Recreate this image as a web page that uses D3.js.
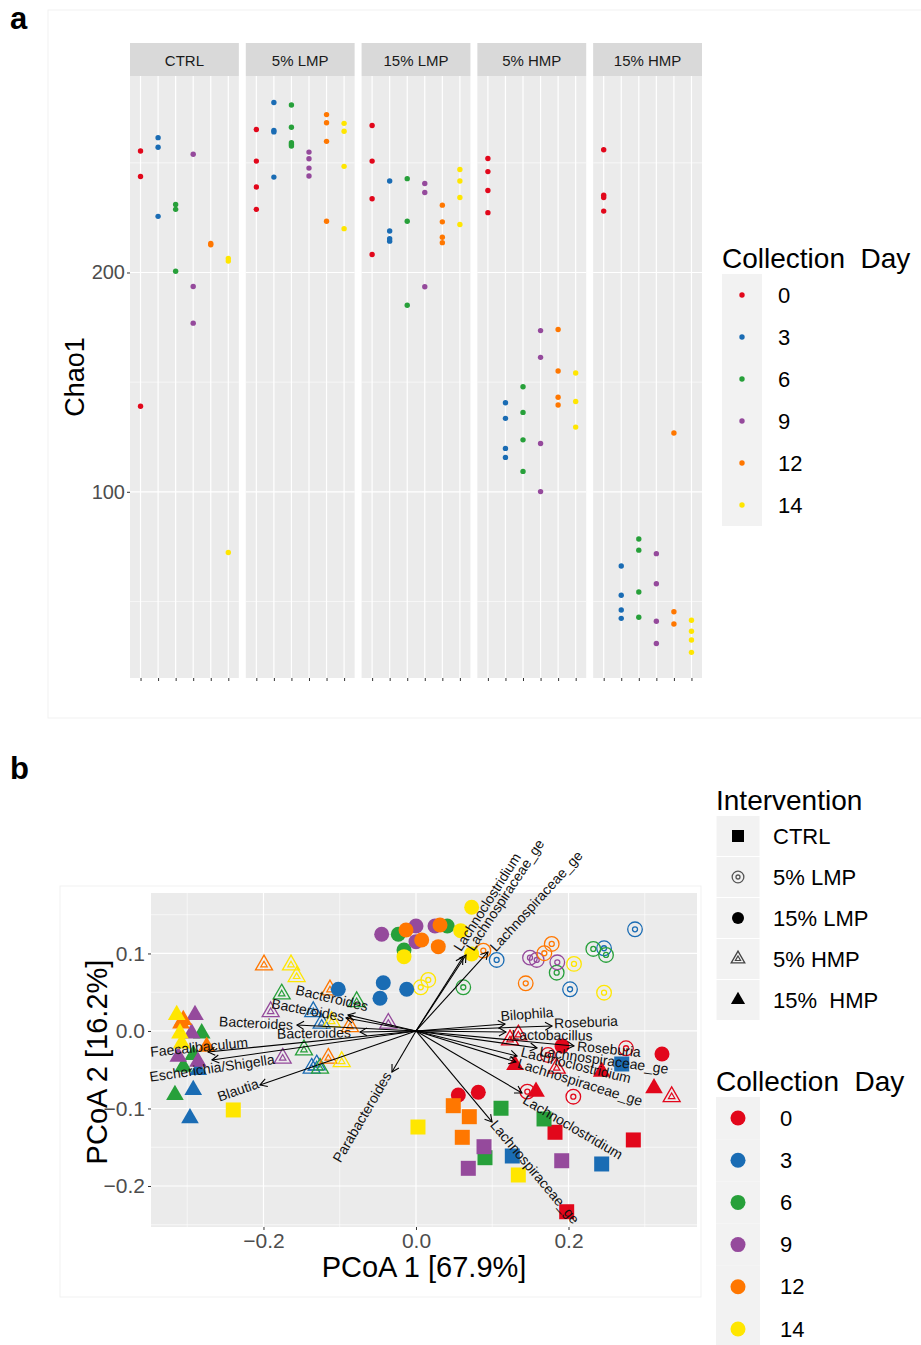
<!DOCTYPE html>
<html>
<head>
<meta charset="utf-8">
<script src="https://cdn.jsdelivr.net/npm/d3@7"></script>
<style>
  body { margin: 0; background: #fff; }
  svg { font-family: "Liberation Sans", Arial, Helvetica, sans-serif; }
</style>
</head>
<body>
<div id="wrapper"></div>
<script>
// ---- data ----
const days = ["0", "3", "6", "9", "12", "14"];
const dayColors = ["#e2071b", "#1a6cb4", "#27a03a", "#954a9c", "#ff7700", "#ffe600"];
const groups = ["CTRL", "5% LMP", "15% LMP", "5% HMP", "15% HMP"];

// Chao1, one list per collection day (0,3,6,9,12,14)
const chaoCTRL = [[255.4, 243.8, 139.0], [261.5, 257.1, 225.6], [231.0, 228.8, 200.6], [253.9, 193.6, 176.9], [213.2, 212.6], [206.4, 205.2, 72.3]];
const chaoLMP5 = [[265.2, 250.8, 239.0, 228.8], [277.5, 264.8, 264.1, 243.5], [276.4, 266.2, 259.2, 258.4, 257.7], [254.9, 251.9, 247.6, 244.0], [272.0, 268.3, 259.8, 223.4], [268.0, 264.4, 248.4, 220.0]];
const chaoLMP15 = [[267.0, 250.8, 233.6, 208.2], [241.7, 218.9, 215.4, 214.3], [242.8, 223.4, 185.1], [240.6, 236.5, 193.5], [230.7, 223.1, 216.1, 213.6], [247.0, 241.7, 234.2, 221.9]];
const chaoHMP5 = [[252.0, 246.0, 237.4, 227.3], [140.6, 133.5, 119.8, 115.7], [147.9, 136.2, 123.7, 109.3], [173.5, 161.3, 122.0, 100.1], [174.0, 155.1, 143.1, 139.6], [154.2, 141.2, 129.5]];
const chaoHMP15 = [[256.0, 235.2, 234.2, 228.0], [66.2, 52.8, 46.1, 42.3], [78.5, 73.4, 54.3, 42.8], [71.8, 58.1, 41.0, 30.8], [126.8, 45.3, 39.7], [41.4, 36.4, 32.4, 26.8]];
const chaoTicks = [100, 200];

// PCoA scores: [day, PCoA1, PCoA2]
const pcCTRL = [["0", 0.1823, -0.1307], ["0", 0.2850, -0.1406], ["0", 0.1976, -0.2332],
  ["3", 0.1263, -0.1613], ["3", 0.2435, -0.1716], ["3", 0.2698, -0.0426],
  ["6", 0.1115, -0.0997], ["6", 0.1679, -0.1135], ["6", 0.0905, -0.1635],
  ["9", 0.0892, -0.1493], ["9", 0.0686, -0.1772], ["9", 0.1911, -0.1674],
  ["12", 0.0489, -0.0964], ["12", 0.0699, -0.1106], ["12", 0.0607, -0.1372],
  ["14", 0.1342, -0.1858], ["14", -0.2396, -0.1019], ["14", 0.0026, -0.1239]];
const pcLMP5 = [["0", 0.2754, -0.0223], ["0", 0.2063, -0.0848], ["0", 0.1460, -0.0783], ["0", 0.1731, -0.0310],
  ["3", 0.1058, 0.0916], ["3", 0.2872, 0.1312], ["3", 0.2466, 0.1067], ["3", 0.2020, 0.0538],
  ["6", 0.0620, 0.0564], ["6", 0.1845, 0.0752], ["6", 0.2325, 0.1058], ["6", 0.2492, 0.0981],
  ["9", 0.1495, 0.0946], ["9", 0.1583, 0.0916], ["9", 0.1853, 0.0886],
  ["12", 0.0883, 0.1036], ["12", 0.1780, 0.1123], ["12", 0.1683, 0.1003], ["12", 0.1439, 0.0615],
  ["14", 0.0161, 0.0658], ["14", 0.0062, 0.0564], ["14", 0.2072, 0.0865], ["14", 0.2466, 0.0494]];
const pcLMP15 = [["0", 0.0555, -0.0826], ["0", 0.0817, -0.0791], ["0", 0.1915, -0.0194], ["0", 0.3226, -0.0297],
  ["3", -0.1019, 0.0538], ["3", -0.0429, 0.0623], ["3", -0.0122, 0.0538], ["3", -0.0472, 0.0422],
  ["6", -0.0232, 0.1248], ["6", -0.0157, 0.1045], ["6", 0.0410, 0.1355],
  ["9", -0.0450, 0.1248], ["9", 0.0000, 0.1355], ["9", 0.0000, 0.1152], ["9", 0.0249, 0.1355],
  ["12", -0.0131, 0.1303], ["12", 0.0075, 0.1174], ["12", 0.0315, 0.1368], ["12", 0.0292, 0.1088],
  ["14", -0.0157, 0.0959], ["14", 0.0730, 0.1596], ["14", 0.0586, 0.1294], ["14", 0.0730, 0.0994]];
const pcHMP5 = [["0", 0.1233, -0.0116], ["0", 0.1342, -0.0052], ["0", 0.1845, -0.0481], ["0", 0.3353, -0.0848],
  ["3", -0.1347, 0.0249], ["3", -0.1237, 0.0099], ["3", -0.1368, -0.0481], ["3", -0.1302, -0.0439],
  ["6", -0.1761, 0.0477], ["6", -0.0778, 0.0378], ["6", -0.1469, -0.0245], ["6", -0.1259, -0.0481],
  ["9", -0.1906, 0.0249], ["9", -0.0363, 0.0099], ["9", -0.1748, -0.0352],
  ["12", -0.1993, 0.0852], ["12", -0.1128, 0.0529], ["12", -0.0866, 0.0055], ["12", -0.1150, -0.0352],
  ["14", -0.1639, 0.0852], ["14", -0.1565, 0.0701], ["14", -0.1106, 0.0120], ["14", -0.0974, -0.0396]];
const pcHMP15 = [["0", 0.1298, -0.0439], ["0", 0.2435, -0.0525], ["0", 0.3121, -0.0739], ["0", 0.1574, -0.0783],
  ["3", -0.2855, -0.0503], ["3", -0.2921, -0.0761], ["3", -0.2964, -0.1126],
  ["6", -0.2810, -0.0030], ["6", -0.2921, -0.0310], ["6", -0.3052, -0.0461], ["6", -0.3161, -0.0826],
  ["9", -0.2898, 0.0206], ["9", -0.2942, -0.0030], ["9", -0.3117, -0.0332], ["9", -0.2859, -0.0396],
  ["12", -0.3052, 0.0142], ["12", -0.3082, 0.0099], ["12", -0.2745, -0.0203],
  ["14", -0.3138, 0.0206], ["14", -0.3095, -0.0030], ["14", -0.3073, -0.0159]];

// taxa vectors: [name, tipX, tipY, labelX, labelY]
const vectors = [
  ["Lachnoclostridium", 0.0616, 0.0955, 0.0931, 0.1665],
  ["Lachnospiraceae_ge", 0.0656, 0.0981, 0.1167, 0.1755],
  ["Lachnospiraceae_ge", 0.0944, 0.1019, 0.1574, 0.1677],
  ["Bilophila", 0.1167, 0.0090, 0.1456, 0.0219],
  ["Roseburia", 0.1784, 0.0065, 0.2230, 0.0116],
  ["Lactobacillus", 0.1180, -0.0013, 0.1784, -0.0052],
  ["Roseburia", 0.2072, -0.0194, 0.2531, -0.0232],
  ["Lachnospiraceae_ge", 0.1587, -0.0219, 0.2466, -0.0374],
  ["Lachnoclostridium", 0.1325, -0.0323, 0.2098, -0.0439],
  ["Lachnospiraceae_ge", 0.1311, -0.0400, 0.2151, -0.0658],
  ["Lachnoclostridium", 0.1390, -0.0800, 0.2059, -0.1239],
  ["Lachnospiraceae_ge", 0.0997, -0.1174, 0.1561, -0.1819],
  ["Bacteroides", -0.0892, 0.0206, -0.1102, 0.0426],
  ["Bacteroides", -0.0918, 0.0168, -0.1416, 0.0271],
  ["Bacteroides", -0.1561, 0.0077, -0.2098, 0.0103],
  ["Bacteroides", -0.0734, -0.0013, -0.1338, -0.0026],
  ["Faecalibaculum", -0.2728, -0.0271, -0.2846, -0.0206],
  ["Escherichia/Shigella", -0.2675, -0.0374, -0.2675, -0.0477],
  ["Blautia", -0.2046, -0.0697, -0.2334, -0.0761],
  ["Parabacteroides", -0.0315, -0.0529, -0.0708, -0.1110]
];
const pcXTicks = [-0.2, 0, 0.2];
const pcYTicks = [-0.2, -0.1, 0, 0.1];

// ---- setup ----
const svg = d3.select("#wrapper").append("svg")
  .attr("width", 921)
  .attr("height", 1345);

const dayColor = d3.scaleOrdinal().domain(days).range(dayColors);
const fmt = d => d3.format(".1f")(d).replace("-", "\u2212");

// faint frames around the two panels
svg.append("rect").attr("x", 48).attr("y", 10).attr("width", 880).attr("height", 708)
  .attr("fill", "none").attr("stroke", "#f1f1f1");
svg.append("rect").attr("x", 60).attr("y", 886).attr("width", 641).attr("height", 411)
  .attr("fill", "none").attr("stroke", "#f1f1f1");

svg.append("text").attr("x", 10).attr("y", 29).text("a")
  .attr("font-size", 31).attr("font-weight", "bold");
svg.append("text").attr("x", 10).attr("y", 779).text("b")
  .attr("font-size", 31).attr("font-weight", "bold");

// ---- panel a ----
const facetX = d3.scaleBand().domain(groups).range([130, 702]).paddingInner(0.06);
const chaoY = d3.scaleLinear().domain([15.1, 289.6]).range([678, 76]);
const dayX = d3.scalePoint().domain(days).range([0, facetX.bandwidth()]).padding(0.6);
const chaoData = [chaoCTRL, chaoLMP5, chaoLMP15, chaoHMP5, chaoHMP15];

groups.forEach((grp, gi) => {
  const f = svg.append("g").attr("transform", "translate(" + facetX(grp) + ",0)");
  f.append("rect").attr("x", 0).attr("y", 43).attr("width", facetX.bandwidth()).attr("height", 33)
    .attr("fill", "#d9d9d9");
  f.append("text").attr("x", facetX.bandwidth() / 2).attr("y", 60)
    .attr("text-anchor", "middle").attr("dominant-baseline", "central")
    .attr("font-size", 15).attr("fill", "#1a1a1a").text(grp);
  f.append("rect").attr("x", 0).attr("y", 76).attr("width", facetX.bandwidth()).attr("height", 602)
    .attr("fill", "#ebebeb");
  f.selectAll(".minor").data([50, 150, 250]).join("line")
    .attr("x1", 0).attr("x2", facetX.bandwidth())
    .attr("y1", d => chaoY(d)).attr("y2", d => chaoY(d))
    .attr("stroke", "#fff").attr("stroke-width", 0.6);
  f.selectAll(".major").data(chaoTicks).join("line")
    .attr("x1", 0).attr("x2", facetX.bandwidth())
    .attr("y1", d => chaoY(d)).attr("y2", d => chaoY(d))
    .attr("stroke", "#fff").attr("stroke-width", 1.2);
  f.selectAll(".vgrid").data(days).join("line")
    .attr("x1", d => dayX(d)).attr("x2", d => dayX(d))
    .attr("y1", 76).attr("y2", 678)
    .attr("stroke", "#fff").attr("stroke-width", 1.2);

  const pts = [];
  chaoData[gi].forEach((vals, di) => vals.forEach(v => pts.push({ day: days[di], v: v })));
  f.selectAll("circle").data(pts).join("circle")
    .attr("cx", d => dayX(d.day))
    .attr("cy", d => chaoY(d.v))
    .attr("r", 2.7)
    .attr("fill", d => dayColor(d.day));

  const xa = f.append("g").attr("transform", "translate(0,678)")
    .call(d3.axisBottom(dayX).tickSize(3).tickFormat(""));
  xa.select(".domain").remove();
  xa.selectAll("line").attr("stroke", "#333");
});

const ya = svg.append("g").attr("transform", "translate(130,0)")
  .call(d3.axisLeft(chaoY).tickValues(chaoTicks).tickSize(3).tickPadding(2));
ya.select(".domain").remove();
ya.selectAll("line").attr("stroke", "#333");
ya.selectAll("text").attr("font-size", 20).attr("fill", "#4d4d4d")
  .attr("font-family", "Liberation Sans, Arial, sans-serif");

svg.append("text")
  .attr("transform", "translate(84,377) rotate(-90)")
  .attr("text-anchor", "middle").attr("font-size", 27).text("Chao1");

// panel a legend
const legA = svg.append("g").attr("transform", "translate(722,0)");
legA.append("text").attr("x", 0).attr("y", 268).attr("font-size", 28)
  .style("white-space", "pre").text("Collection  Day");
legA.selectAll("rect").data(days).join("rect")
  .attr("x", 0).attr("y", (d, i) => 274 + i * 42)
  .attr("width", 40).attr("height", 42).attr("fill", "#f2f2f2");
legA.selectAll("circle").data(days).join("circle")
  .attr("cx", 20).attr("cy", (d, i) => 295 + i * 42)
  .attr("r", 2.7).attr("fill", d => dayColor(d));
legA.selectAll(".lab").data(days).join("text")
  .attr("x", 56).attr("y", (d, i) => 295 + i * 42)
  .attr("dominant-baseline", "central").attr("font-size", 22).text(d => d);

// ---- panel b ----
const pcX = d3.scaleLinear().domain([-0.3475, 0.3685]).range([151, 697]);
const pcY = d3.scaleLinear().domain([-0.2529, 0.178]).range([1227, 893]);

const pb = svg.append("g");
pb.append("rect").attr("x", 151).attr("y", 893).attr("width", 546).attr("height", 334)
  .attr("fill", "#ebebeb");
pb.selectAll(".xminor").data([-0.3, -0.1, 0.1, 0.3]).join("line")
  .attr("x1", d => pcX(d)).attr("x2", d => pcX(d)).attr("y1", 893).attr("y2", 1227)
  .attr("stroke", "#fff").attr("stroke-width", 0.6);
pb.selectAll(".yminor").data([-0.25, -0.15, -0.05, 0.05, 0.15]).join("line")
  .attr("y1", d => pcY(d)).attr("y2", d => pcY(d)).attr("x1", 151).attr("x2", 697)
  .attr("stroke", "#fff").attr("stroke-width", 0.6);
pb.selectAll(".xmajor").data(pcXTicks).join("line")
  .attr("x1", d => pcX(d)).attr("x2", d => pcX(d)).attr("y1", 893).attr("y2", 1227)
  .attr("stroke", "#fff").attr("stroke-width", 1.2);
pb.selectAll(".ymajor").data(pcYTicks).join("line")
  .attr("y1", d => pcY(d)).attr("y2", d => pcY(d)).attr("x1", 151).attr("x2", 697)
  .attr("stroke", "#fff").attr("stroke-width", 1.2);

function drawShape(g, shape, color, k) {
  if (shape === "square") {
    g.append("path").attr("d", d3.symbol(d3.symbolSquare, 225 * k * k)()).attr("fill", color);
  } else if (shape === "circle") {
    g.append("circle").attr("r", 7.5 * k).attr("fill", color);
  } else if (shape === "ring") {
    g.append("circle").attr("r", 7.3 * k).attr("fill", "none").attr("stroke", color).attr("stroke-width", 1.3);
    g.append("circle").attr("r", 2.5 * k).attr("fill", "none").attr("stroke", color).attr("stroke-width", 1.3);
  } else if (shape === "opentri") {
    g.append("path").attr("d", d3.symbol(d3.symbolTriangle, 125 * k * k)()).attr("fill", "none")
      .attr("stroke", color).attr("stroke-width", 1.3);
    g.append("path").attr("d", d3.symbol(d3.symbolTriangle, 18 * k * k)()).attr("fill", "none")
      .attr("stroke", color).attr("stroke-width", 1.2);
  } else {
    g.append("path").attr("d", d3.symbol(d3.symbolTriangle, 135 * k * k)()).attr("fill", color);
  }
}

const shapes = ["square", "ring", "circle", "opentri", "tri"];
const pcData = [pcCTRL, pcLMP5, pcLMP15, pcHMP5, pcHMP15];
const drawOrder = [3, 1, 2, 4, 0];
drawOrder.forEach(gi => {
  pcData[gi].forEach(d => {
    const g = pb.append("g").attr("transform", "translate(" + pcX(d[1]) + "," + pcY(d[2]) + ")");
    drawShape(g, shapes[gi], dayColor(d[0]), 1);
  });
});

// arrows
const ox = pcX(0), oy = pcY(0);
vectors.forEach(v => {
  const tx = pcX(v[1]), ty = pcY(v[2]);
  const a = Math.atan2(ty - oy, tx - ox);
  const hl = 8, ha = Math.PI / 6;
  pb.append("line").attr("x1", ox).attr("y1", oy).attr("x2", tx).attr("y2", ty)
    .attr("stroke", "#000").attr("stroke-width", 1.1);
  pb.append("path")
    .attr("d", "M" + (tx - hl * Math.cos(a - ha)) + "," + (ty - hl * Math.sin(a - ha)) +
      "L" + tx + "," + ty +
      "L" + (tx - hl * Math.cos(a + ha)) + "," + (ty - hl * Math.sin(a + ha)))
    .attr("fill", "none").attr("stroke", "#000").attr("stroke-width", 1.1);
});
vectors.forEach(v => {
  const tx = pcX(v[1]), ty = pcY(v[2]);
  let deg = Math.atan2(ty - oy, tx - ox) * 180 / Math.PI;
  if (deg > 90) deg -= 180;
  if (deg < -90) deg += 180;
  pb.append("text")
    .attr("transform", "translate(" + pcX(v[3]) + "," + pcY(v[4]) + ") rotate(" + deg + ")")
    .attr("text-anchor", "middle").attr("dominant-baseline", "central")
    .attr("font-size", 14).attr("fill", "#111").text(v[0]);
});

// axes
const xb = svg.append("g").attr("transform", "translate(0,1227)")
  .call(d3.axisBottom(pcX).tickValues(pcXTicks).tickSize(3).tickPadding(3).tickFormat(fmt));
xb.select(".domain").remove();
xb.selectAll("line").attr("stroke", "#333");
xb.selectAll("text").attr("font-size", 21).attr("fill", "#4d4d4d")
  .attr("font-family", "Liberation Sans, Arial, sans-serif");
const yb = svg.append("g").attr("transform", "translate(151,0)")
  .call(d3.axisLeft(pcY).tickValues(pcYTicks).tickSize(3).tickPadding(3).tickFormat(fmt));
yb.select(".domain").remove();
yb.selectAll("line").attr("stroke", "#333");
yb.selectAll("text").attr("font-size", 21).attr("fill", "#4d4d4d")
  .attr("font-family", "Liberation Sans, Arial, sans-serif");

svg.append("text").attr("x", 424).attr("y", 1277).attr("text-anchor", "middle")
  .attr("font-size", 29).text("PCoA 1 [67.9%]");
svg.append("text").attr("transform", "translate(107,1062) rotate(-90)")
  .attr("text-anchor", "middle").attr("font-size", 29).text("PCoA 2 [16.2%]");

// panel b legends
const legI = svg.append("g").attr("transform", "translate(716,0)");
legI.append("text").attr("x", 0).attr("y", 810).attr("font-size", 28).text("Intervention");
const legShapeColors = ["#000", "#555", "#000", "#444", "#000"];
groups.forEach((grp, i) => {
  const cy = 836 + i * 41;
  legI.append("rect").attr("x", 0).attr("y", cy - 20.5).attr("width", 44).attr("height", 41)
    .attr("fill", "#f2f2f2").attr("stroke", "#fff").attr("stroke-width", 1);
  const g = legI.append("g").attr("transform", "translate(22," + cy + ")");
  drawShape(g, shapes[i], legShapeColors[i], 0.8);
  legI.append("text").attr("x", 57).attr("y", cy).attr("dominant-baseline", "central")
    .attr("font-size", 22).style("white-space", "pre")
    .text(grp === "15% HMP" ? "15%  HMP" : grp);
});

const legD = svg.append("g").attr("transform", "translate(716,0)");
legD.append("text").attr("x", 0).attr("y", 1091).attr("font-size", 28)
  .style("white-space", "pre").text("Collection  Day");
days.forEach((d, i) => {
  const cy = 1118 + i * 42.2;
  legD.append("rect").attr("x", 0).attr("y", cy - 21).attr("width", 44).attr("height", 42.2)
    .attr("fill", "#f2f2f2");
  legD.append("circle").attr("cx", 22).attr("cy", cy).attr("r", 7.5).attr("fill", dayColor(d));
  legD.append("text").attr("x", 64).attr("y", cy).attr("dominant-baseline", "central")
    .attr("font-size", 22).text(d);
});
</script>
</body>
</html>
